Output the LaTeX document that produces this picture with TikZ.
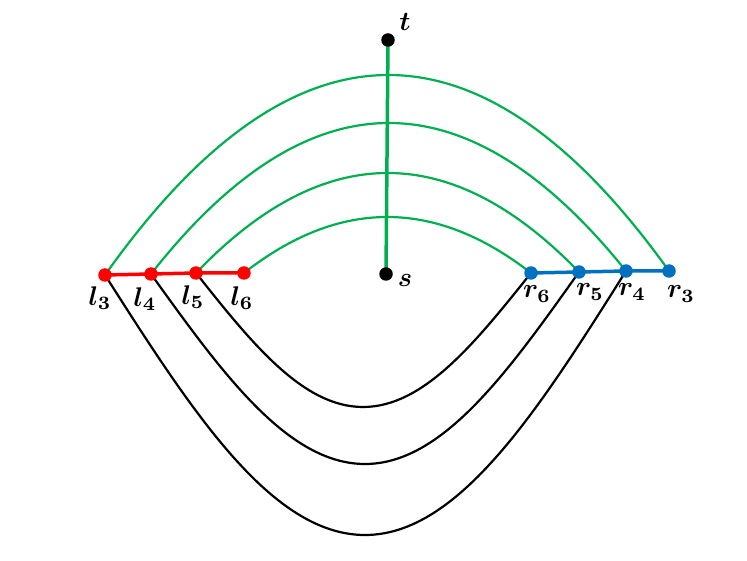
\documentclass[tikz,border=0pt]{standalone}
\usepackage{bm}
\usetikzlibrary{backgrounds,calc}
\definecolor{cgreen}{RGB}{0,176,80}
\definecolor{cred}{RGB}{255,0,0}
\definecolor{cblue}{RGB}{0,112,192}
\newcommand\myarch[4]{\draw[#4] let \p1=(#1), \p2=(#2), \p3=(#3) in (\p1) .. controls ({\x1+0.3343*(\x2-\x1)},{\y1+0.5251*(\y2-\y1)}) and ({\x1+0.64*(\x2-\x1)},\y2) .. (\p2) .. controls ({\x3+0.64*(\x2-\x3)},\y2) and ({\x3+0.3343*(\x2-\x3)},{\y3+0.5251*(\y2-\y3)}) .. (\p3);}
\newcommand\myparab[4]{\draw[#4] let \p1=(#1), \p2=(#2), \p3=(#3) in (\p1) .. controls ({\x1+2/3*(\x2-\x1)},{\y1+2/3*(2*\y2-0.5*\y1-0.5*\y3-\y1)}) and ({\x3+2/3*(\x2-\x3)},{\y3+2/3*(2*\y2-0.5*\y1-0.5*\y3-\y3)}) .. (\p3);}
\begin{document}
\begin{tikzpicture}[x=1pt,y=-1pt,
  dotnode/.style={circle,inner sep=0pt,minimum size=13.5pt},
  rdot/.style={dotnode,fill=cred},
  bdot/.style={dotnode,fill=cblue},
  kdot/.style={dotnode,fill=black},
  lbl/.style={scale=2.7,inner sep=0pt},
  garc/.style={cgreen,line width=2.2pt},
  karc/.style={black,line width=2.2pt}]
\useasboundingbox (0,0) rectangle (747,561);
\node[rdot] (l3) at (105,275) {};
\node[rdot] (l4) at (151,274) {};
\node[rdot] (l5) at (196,273) {};
\node[rdot] (l6) at (244,273) {};
\node[bdot] (r6) at (531,273) {};
\node[bdot] (r5) at (579,272) {};
\node[bdot] (r4) at (626,271) {};
\node[bdot] (r3) at (669,271) {};
\node[kdot] (s) at (386,274) {};
\node[kdot] (t) at (388,40) {};
\coordinate (g3) at (387,75);
\coordinate (g4) at (387,123);
\coordinate (g5) at (387,173);
\coordinate (g6) at (387,217);
\coordinate (k3) at (365,535);
\coordinate (k4) at (365,464);
\coordinate (k5) at (363,407);
\begin{pgfonlayer}{background}
\myparab{l3.center}{g3}{r3.center}{garc}
\myparab{l4.center}{g4}{r4.center}{garc}
\myparab{l5.center}{g5}{r5.center}{garc}
\myparab{l6.center}{g6}{r6.center}{garc}
\myarch{l3.center}{k3}{r4.center}{karc}
\myarch{l4.center}{k4}{r5.center}{karc}
\myarch{l5.center}{k5}{r6.center}{karc}
\draw[cred,line width=3.5pt] (l3.center) -- (l4.center) -- (l5.center) -- (l6.center);
\draw[cblue,line width=3.5pt] (r6.center) -- (r5.center) -- (r4.center) -- (r3.center);
\draw[cgreen,line width=3.5pt] (s.center) -- (t.center);
\end{pgfonlayer}
\node[lbl] (tl3) at (100,298) {$\bm{l_3}$};
\node[lbl] (tl4) at (145,299) {$\bm{l_4}$};
\node[lbl] (tl5) at (193,297) {$\bm{l_5}$};
\node[lbl] (tl6) at (242,298) {$\bm{l_6}$};
\node[lbl] (tr6) at (537,294) {$\bm{r_6}$};
\node[lbl] (tr5) at (590,292) {$\bm{r_5}$};
\node[lbl] (tr4) at (632,292) {$\bm{r_4}$};
\node[lbl] (tr3) at (681,294) {$\bm{r_3}$};
\node[lbl] (tt) at (405,22) {$\bm{t}$};
\node[lbl] (ts) at (405,281) {$\bm{s}$};
\end{tikzpicture}
\end{document}
